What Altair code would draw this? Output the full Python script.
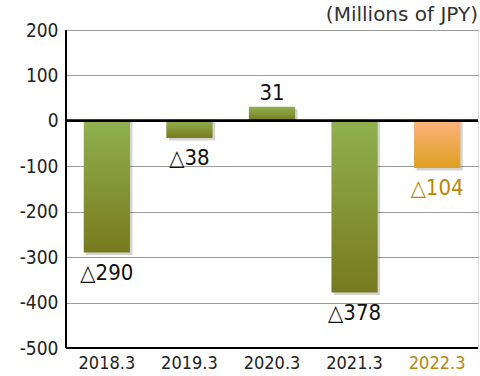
import altair as alt
import pandas as pd

years = ["2018.3", "2019.3", "2020.3", "2021.3", "2022.3"]
values = [-290, -38, 31, -378, -104]
labels = ["△290", "△38", "31", "△378", "△104"]
highlight = [False, False, False, False, True]

df = pd.DataFrame({"year": years, "value": values, "label": labels, "hl": highlight})

FONT = "'DejaVu Sans Condensed', Roboto"
AXFONT = "'DejaVu Sans Condensed', Roboto"
GOLD = "#b8870b"

xenc = alt.X("year:N", sort=years,
             scale=alt.Scale(paddingInner=0.44, paddingOuter=0.215),
             axis=alt.Axis(title=None, labelAngle=0, labelFont=AXFONT, labelFontSize=18,
                           labelPadding=6, ticks=False, domain=False,
                           labelColor=alt.expr(f"datum.value == '2022.3' ? '{GOLD}' : '#222'")))
yenc = alt.Y("value:Q", scale=alt.Scale(domain=[-500, 200], nice=False),
             axis=alt.Axis(title=None, values=list(range(-500, 201, 100)), labelFont=AXFONT,
                           labelFontSize=19, labelColor="#222", labelPadding=8, ticks=False,
                           labelExpr="replace(datum.label, '−', '-')",
                           domain=False, grid=True, gridColor="#9a9a9a", gridWidth=1))

base = alt.Chart(df)

shadow = base.mark_bar(color="#555", opacity=0.25, xOffset=2.5, yOffset=2.5).encode(
    x=xenc, y=yenc, y2=alt.datum(0))

green = base.transform_filter("!datum.hl").mark_bar(
    color=alt.Gradient(gradient="linear", x1=0, x2=0, y1=0, y2=1,
                       stops=[alt.GradientStop(color="#90b050", offset=0),
                              alt.GradientStop(color="#787a1e", offset=1)])
).encode(x=xenc, y=yenc, y2=alt.datum(0))

orange = base.transform_filter("datum.hl").mark_bar(
    color=alt.Gradient(gradient="linear", x1=0, x2=0, y1=0, y2=1,
                       stops=[alt.GradientStop(color="#fdb27c", offset=0),
                              alt.GradientStop(color="#dea020", offset=1)])
).encode(x=xenc, y=yenc, y2=alt.datum(0))

neg_text = base.transform_filter("datum.value < 0").mark_text(
    font=FONT, fontSize=22, baseline="top", dy=10
).encode(x=xenc, y=yenc, text="label:N",
         color=alt.condition("datum.hl", alt.value(GOLD), alt.value("#111")))

pos_text = base.transform_filter("datum.value >= 0").mark_text(
    font=FONT, fontSize=22, baseline="alphabetic", dy=-7, color="#111"
).encode(x=xenc, y=yenc, text="label:N")

unit = alt.Chart(pd.DataFrame({"t": ["(Millions of JPY)"]})).mark_text(
    font="DejaVu Sans", fontSize=20, align="right", baseline="alphabetic", color="#333"
).encode(text="t:N", x=alt.value(412), y=alt.value(-9))

zero = base.mark_rule(color="#000", strokeWidth=2).encode(y=alt.datum(0))
left = base.mark_rule(color="#000", strokeWidth=2).encode(
    x=alt.value(0), y=alt.value(0), y2=alt.value(318))
bottom = base.mark_rule(color="#000", strokeWidth=2).encode(
    x=alt.value(0), x2=alt.value(412), y=alt.value(318))

chart = alt.layer(shadow, green, orange, zero, left, bottom, neg_text, pos_text, unit).properties(
    width=412, height=318,
    autosize=alt.AutoSizeParams(type="none"),
    padding={"left": 66, "top": 30, "right": 2, "bottom": 28},
).configure_view(stroke=None).configure(background="white")

chart.save("out.html", embed_options={"renderer": "svg", "actions": False})
